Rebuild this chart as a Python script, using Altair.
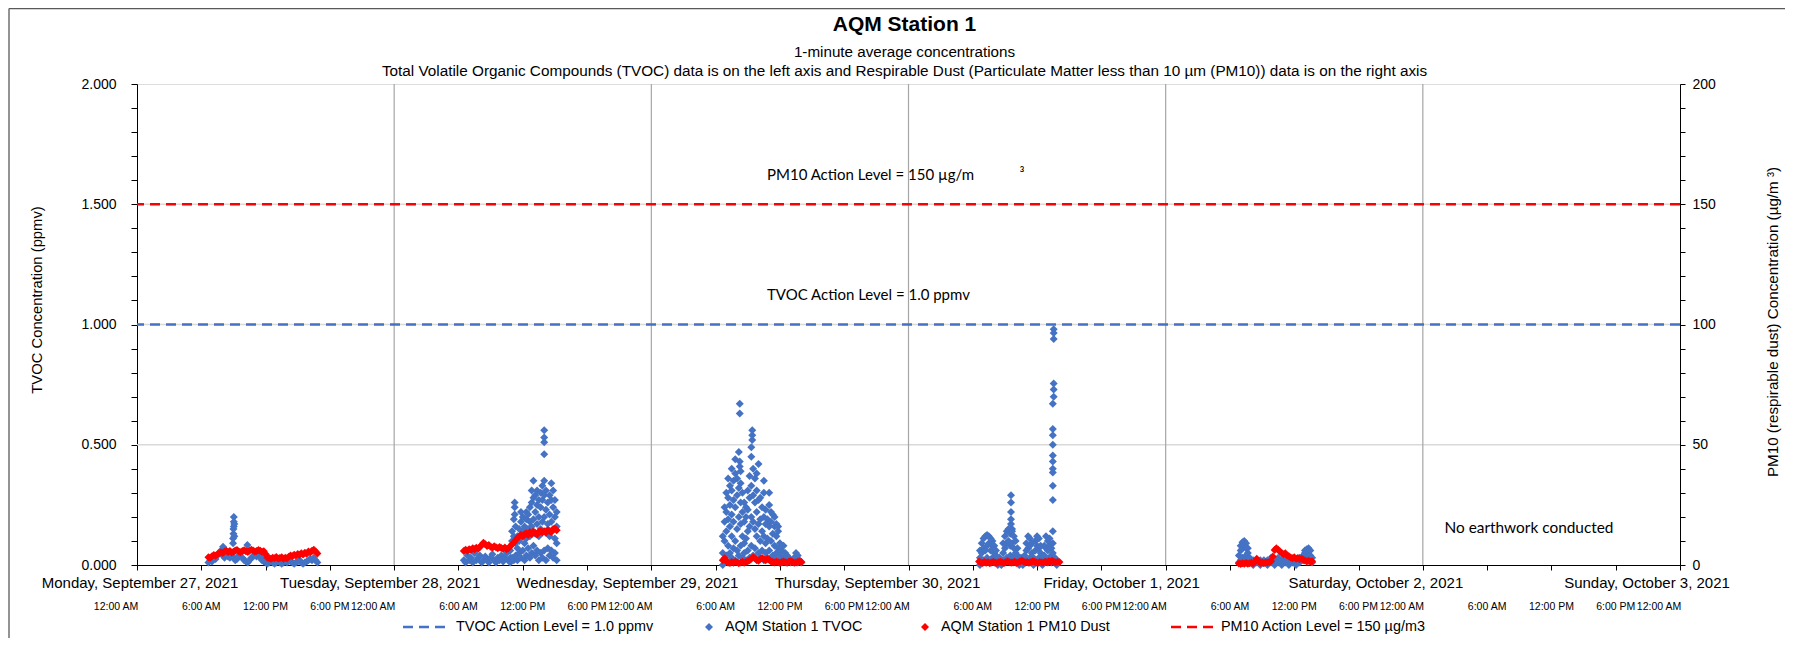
import altair as alt
import pandas as pd

# ------------------------------------------------------------------ DATA
START = pd.Timestamp("2021-09-27 00:00")
STEP_MIN = 10  # spacing of the regular readings listed below

# PM10 respirable dust (ug/m3) - regular readings
pm10_sep27_start = "2021-09-27 06:40"
pm10_sep27 = [3.2, 3.0, 3.6, 4.2, 3.8, 4.5, 4.9, 5.3, 5.0, 5.6, 5.9, 5.4, 5.8, 5.2, 5.5, 6.0,
              6.2, 5.6, 5.3, 5.8, 6.1, 5.7, 5.4, 5.9, 6.3, 6.0, 5.6, 5.8, 6.2, 5.9, 5.5, 5.7,
              4.6, 3.1, 2.9, 2.6, 3.0, 2.8, 3.3, 2.7, 2.9, 3.2, 2.6, 3.0, 2.8, 3.4, 3.9, 3.6,
              4.3, 4.0, 4.6, 4.2, 4.9, 4.4, 5.1, 4.7, 5.6, 5.2, 5.9, 6.3, 5.6, 4.8]
pm10_sep28_start = "2021-09-28 06:30"
pm10_sep28 = [5.8, 6.3, 5.9, 6.6, 6.2, 7.0, 6.5, 7.2, 6.8, 7.5, 8.3, 9.2, 8.6, 7.9, 8.3, 7.6,
              7.2, 7.8, 7.4, 7.0, 7.5, 7.1, 6.8, 7.3, 6.6, 7.0, 7.8, 8.6, 9.4, 10.3, 11.2, 11.8,
              12.6, 11.9, 12.8, 13.2, 12.5, 13.6, 12.9, 13.9, 13.3, 12.7, 13.8, 14.2, 13.5, 14.0,
              13.4, 14.6, 14.1, 13.7, 14.8, 15.2, 14.4]
pm10_sep29_start = "2021-09-29 06:40"
pm10_sep29 = [2.0, 2.8, 1.6, 1.0, 0.8, 1.2, 0.9, 1.4, 1.1, 0.7, 1.0, 1.3, 0.9, 1.2, 1.6, 2.0,
              2.6, 3.2, 2.8, 2.2, 1.8, 2.5, 2.9, 2.4, 2.0, 2.6, 2.2, 1.5, 1.2, 1.0, 1.4, 1.1,
              0.8, 1.2, 1.5, 1.1, 0.9, 1.3, 1.7, 1.2, 0.9, 1.0, 1.3, 1.6, 1.2]
pm10_sep30_start = "2021-09-30 06:35"
pm10_sep30 = [1.5, 1.0, 0.8, 1.2, 0.9, 1.1, 0.7, 1.0, 1.3, 0.9, 0.8, 1.1, 1.4, 1.0, 0.8, 1.2,
              1.6, 1.1, 0.9, 1.0, 1.3, 0.8, 1.1, 1.5, 1.9, 1.4, 1.0, 1.2, 0.9, 1.1, 1.6, 1.3,
              1.0, 0.8, 1.2, 1.0, 0.9, 1.4, 1.1, 1.6, 1.3, 1.8, 1.2, 1.0, 1.4, 1.2]
pm10_oct01_start = "2021-10-01 06:50"
pm10_oct01 = [0.6, 0.4, 0.7, 0.5, 0.8, 0.5, 0.7, 0.9, 0.6, 1.4, 2.6, 1.5, 0.8, 1.0, 0.7, 1.1,
              0.9, 1.2, 1.6, 3.5, 6.2, 7.0, 6.3, 5.6, 5.0, 4.4, 4.9, 4.0, 3.6, 3.1, 2.8, 3.2,
              2.6, 2.9, 2.4, 2.7, 2.2, 1.9, 1.5, 1.8, 1.3, 1.6]

# TVOC (ppmv) - regular readings
tvoc_sep27_start = "2021-09-27 06:40"
tvoc_sep27 = [0.01, 0.02, 0.015, 0.03, 0.025, 0.04, 0.05, 0.06, 0.04, 0.03, 0.05, 0.035, 0.03,
              0.045, 0.03, 0.02, 0.025, 0.04, 0.05, 0.03, 0.02, 0.015, 0.01, 0.02, 0.03, 0.035,
              0.04, 0.035, 0.04, 0.03, 0.02, 0.015, 0.01, 0.005, 0.01, 0.015, 0.01, 0.005, 0.01,
              0.02, 0.01, 0.005, 0.01, 0.015, 0.01, 0.02, 0.015, 0.01, 0.005, 0.01, 0.015, 0.02,
              0.01, 0.005, 0.01, 0.015, 0.02, 0.025, 0.02, 0.03, 0.02, 0.01]
tvoc_sep28_start = "2021-09-28 06:30"
tvoc_sep28 = [0.02, 0.01, 0.04, 0.02, 0.03, 0.01, 0.05, 0.02, 0.03, 0.04, 0.01, 0.02, 0.035,
              0.02, 0.01, 0.03, 0.045, 0.02, 0.01, 0.03, 0.02, 0.04, 0.015, 0.03, 0.05, 0.02, 0.03]

# TVOC (ppmv) - bursts: several readings close to each listed time
tvoc_sep27_bursts = {
    "08:02": [0.05, 0.065, 0.076], "08:58": [0.09, 0.11], "09:00": [0.13, 0.15],
    "09:02": [0.16, 0.18, 0.20], "09:05": [0.17, 0.12], "10:18": [0.06, 0.083],
    "11:30": [0.04], "11:40": [0.038], "11:50": [0.04], "12:00": [0.036],
}
tvoc_sep28_bursts = {
    "10:50": [0.01, 0.06], "11:00": [0.03, 0.10, 0.14], "11:10": [0.02, 0.12, 0.19],
    "11:15": [0.21, 0.24, 0.26], "11:20": [0.04, 0.09, 0.16], "11:30": [0.02, 0.07, 0.12],
    "11:40": [0.05, 0.10, 0.15], "11:50": [0.03, 0.12, 0.18, 0.22], "12:00": [0.06, 0.14, 0.20],
    "12:10": [0.02, 0.09, 0.16], "12:20": [0.04, 0.11, 0.19, 0.22], "12:30": [0.07, 0.15, 0.21],
    "12:40": [0.03, 0.12, 0.18, 0.24], "12:50": [0.05, 0.16, 0.26, 0.31],
    "13:00": [0.08, 0.19, 0.28, 0.35], "13:10": [0.04, 0.13, 0.22, 0.29],
    "13:20": [0.06, 0.17, 0.25, 0.31], "13:30": [0.02, 0.12, 0.20, 0.27],
    "13:40": [0.05, 0.15, 0.24, 0.30], "13:50": [0.03, 0.18, 0.27, 0.33],
    "14:00": [0.06, 0.20, 0.29, 0.35, 0.46, 0.51, 0.53, 0.56], "14:10": [0.02, 0.14, 0.23, 0.31],
    "14:20": [0.07, 0.17, 0.26], "14:30": [0.04, 0.12, 0.21, 0.29],
    "14:40": [0.06, 0.18, 0.27, 0.34], "14:50": [0.03, 0.15, 0.24, 0.31],
    "15:00": [0.05, 0.11, 0.20, 0.27], "15:10": [0.02, 0.09, 0.16, 0.22],
}
tvoc_sep29_bursts = {
    "06:40": [0.0, 0.05, 0.12], "06:50": [0.02, 0.10, 0.18, 0.24], "07:00": [0.04, 0.14, 0.22, 0.30],
    "07:10": [0.01, 0.08, 0.19, 0.28, 0.36], "07:20": [0.05, 0.16, 0.25, 0.33],
    "07:30": [0.03, 0.12, 0.21, 0.31, 0.40], "07:40": [0.07, 0.18, 0.27, 0.35],
    "07:50": [0.02, 0.10, 0.24, 0.38, 0.44], "08:00": [0.06, 0.15, 0.29, 0.36],
    "08:10": [0.04, 0.20, 0.32, 0.47], "08:15": [0.41, 0.43, 0.63, 0.67],
    "08:20": [0.08, 0.17, 0.26, 0.34, 0.39], "08:30": [0.03, 0.12, 0.22, 0.30],
    "08:40": [0.05, 0.09, 0.18, 0.26], "08:50": [0.02, 0.11, 0.20, 0.24],
    "09:00": [0.06, 0.14, 0.23, 0.31], "09:10": [0.03, 0.16, 0.28, 0.37],
    "09:20": [0.08, 0.20, 0.33, 0.45, 0.49], "09:25": [0.52, 0.54, 0.56],
    "09:30": [0.04, 0.18, 0.29, 0.40], "09:40": [0.07, 0.15, 0.26, 0.36],
    "09:50": [0.02, 0.12, 0.22, 0.31, 0.38], "10:00": [0.05, 0.17, 0.27, 0.42],
    "10:10": [0.03, 0.10, 0.19, 0.28], "10:20": [0.06, 0.14, 0.24],
    "10:30": [0.02, 0.12, 0.20, 0.30, 0.35], "10:40": [0.05, 0.09, 0.17, 0.23],
    "10:50": [0.03, 0.11, 0.19], "11:00": [0.06, 0.16, 0.25, 0.30], "11:10": [0.02, 0.10, 0.18, 0.22],
    "11:20": [0.04, 0.13, 0.21], "11:30": [0.03, 0.08, 0.16, 0.20], "11:40": [0.05, 0.12, 0.17],
    "11:50": [0.02, 0.07, 0.14, 0.16], "12:00": [0.04, 0.09], "12:10": [0.01, 0.06],
    "12:20": [0.03, 0.08], "12:30": [0.02, 0.05], "12:40": [0.01, 0.04], "12:50": [0.02, 0.03],
    "13:00": [0.01], "13:10": [0.02], "13:20": [0.01, 0.03], "13:30": [0.02, 0.05],
    "13:40": [0.01, 0.04], "13:50": [0.02], "14:00": [0.01],
}
tvoc_sep30_bursts = {
    "06:40": [0.0, 0.03, 0.06], "06:50": [0.01, 0.05, 0.09], "07:00": [0.02, 0.07, 0.11],
    "07:10": [0.01, 0.06, 0.12], "07:20": [0.03, 0.08, 0.125], "07:30": [0.02, 0.09, 0.12],
    "07:40": [0.01, 0.06, 0.11], "07:50": [0.03, 0.08, 0.10], "08:00": [0.01, 0.05, 0.08],
    "08:10": [0.02, 0.04, 0.06], "08:20": [0.0, 0.02], "08:30": [0.01, 0.03], "08:40": [0.0, 0.02],
    "08:50": [0.02, 0.05, 0.09], "09:00": [0.01, 0.07, 0.12], "09:10": [0.03, 0.09, 0.14],
    "09:20": [0.02, 0.10, 0.15], "09:30": [0.04, 0.08, 0.13], "09:34": [0.17, 0.19, 0.22, 0.26, 0.29],
    "09:40": [0.02, 0.09, 0.14, 0.15], "09:50": [0.03, 0.07, 0.12], "10:00": [0.01, 0.05, 0.10],
    "10:10": [0.02, 0.04, 0.07], "10:20": [0.0, 0.02], "10:30": [0.01, 0.03], "10:40": [0.0, 0.02],
    "10:50": [0.01, 0.04], "11:00": [0.02, 0.06, 0.09], "11:10": [0.01, 0.07, 0.12],
    "11:20": [0.03, 0.08, 0.11], "11:30": [0.02, 0.05, 0.09], "11:40": [0.0, 0.03],
    "11:50": [0.02, 0.06, 0.10], "12:00": [0.01, 0.08, 0.12], "12:10": [0.03, 0.07, 0.11],
    "12:20": [0.02, 0.05, 0.08], "12:30": [0.0, 0.03], "12:40": [0.01, 0.04, 0.08],
    "12:50": [0.02, 0.07, 0.12], "13:00": [0.01, 0.06, 0.10], "13:10": [0.03, 0.08, 0.11],
    "13:20": [0.01, 0.04, 0.07], "13:28": [0.02, 0.05, 0.09, 0.14, 0.27, 0.33, 0.385, 0.40, 0.43,
                                           0.455, 0.50, 0.54, 0.565, 0.67],
    "13:33": [0.70, 0.73, 0.755, 0.94, 0.965, 0.98],
    "13:40": [0.01, 0.03], "13:50": [0.0, 0.02], "14:00": [0.01],
}
tvoc_oct01_bursts = {
    "06:50": [0.01, 0.04], "07:00": [0.02, 0.06, 0.08], "07:10": [0.03, 0.07, 0.095],
    "07:20": [0.02, 0.08, 0.10], "07:30": [0.04, 0.07, 0.09], "07:40": [0.02, 0.05, 0.07],
    "07:50": [0.01, 0.03], "08:10": [0.0, 0.02], "08:30": [0.01, 0.02], "08:50": [0.0, 0.02],
    "09:10": [0.01, 0.02], "09:30": [0.0, 0.02], "09:50": [0.01, 0.03], "10:10": [0.0, 0.02],
    "10:30": [0.01, 0.03], "10:50": [0.0, 0.02], "11:10": [0.01, 0.02], "11:30": [0.0, 0.02],
    "11:50": [0.01, 0.02], "12:10": [0.0, 0.02], "12:30": [0.01, 0.03], "12:50": [0.02, 0.04],
    "13:00": [0.03, 0.05, 0.06], "13:10": [0.02, 0.05, 0.065], "13:20": [0.03, 0.06, 0.07],
    "13:30": [0.02, 0.04, 0.06], "13:40": [0.01, 0.03],
}

# Reference lines, grid, tick labels
tvoc_action_level = [1.0]
pm10_action_level = [150]
h_grid_values = [0.5, 1.0, 1.5]
day_boundaries_h = [24, 48, 72, 96, 120]
day_labels = ["Monday, September 27, 2021", "Tuesday, September 28, 2021",
              "Wednesday, September 29, 2021", "Thursday, September 30, 2021",
              "Friday, October 1, 2021", "Saturday, October 2, 2021", "Sunday, October 3, 2021"]
time_label_cycle = ["12:00 AM", "6:00 AM", "12:00 PM", "6:00 PM"]

# ------------------------------------------------------------------ BUILD TABLES
def hrs(ts):
    return (pd.Timestamp(ts) - START).total_seconds() / 3600.0

def regular(start, values):
    h0 = hrs(start)
    return [(h0 + i * STEP_MIN / 60.0, v) for i, v in enumerate(values)]

def bursts(date, d):
    return [(hrs(f"{date} {t}"), v) for t, vs in d.items() for v in vs]

tvoc_rows = (regular(tvoc_sep27_start, tvoc_sep27) + regular(tvoc_sep28_start, tvoc_sep28)
             + bursts("2021-09-27", tvoc_sep27_bursts) + bursts("2021-09-28", tvoc_sep28_bursts)
             + bursts("2021-09-29", tvoc_sep29_bursts) + bursts("2021-09-30", tvoc_sep30_bursts)
             + bursts("2021-10-01", tvoc_oct01_bursts))
pm_rows = (regular(pm10_sep27_start, pm10_sep27) + regular(pm10_sep28_start, pm10_sep28)
           + regular(pm10_sep29_start, pm10_sep29) + regular(pm10_sep30_start, pm10_sep30)
           + regular(pm10_oct01_start, pm10_oct01))
tvoc_df = pd.DataFrame(tvoc_rows, columns=["h", "v"])
pm_df = pd.DataFrame(pm_rows, columns=["h", "v"])

tick_hours = list(range(0, 145, 6))
time_df = pd.DataFrame({"h": tick_hours,
                        "lab": [time_label_cycle[(h % 24) // 6] for h in tick_hours]})

# ------------------------------------------------------------------ STYLE
W, H = 1543, 481
BLUE, RED = "#4472C4", "#FF0000"
FONT = "Liberation Sans"
NOTE_FONT = "Lato"
MS = 64
day_label_dx = [3, -14, -24, -31, -44, -47, -33]

x_scale = alt.Scale(domain=[0, 144], nice=False, zero=False)
x_axis = alt.Axis(values=tick_hours, labels=False, tickSize=5, tickColor="black",
                  domainColor="black", grid=False, title="")
x_enc = alt.X("h:Q", scale=x_scale, axis=x_axis)

left_scale = alt.Scale(domain=[0, 2], nice=False)
left_axis = alt.Axis(orient="left", values=[round(i * 0.1, 1) for i in range(21)],
                     labelExpr="(round(datum.value*10) % 5 == 0) ? format(datum.value, '.3f') : ''",
                     tickSize=6, tickColor="black", domainColor="black", labelColor="black",
                     labelFont=FONT, labelFontSize=14, labelPadding=15, grid=False, title="")
right_scale = alt.Scale(domain=[0, 200], nice=False)
right_axis = alt.Axis(orient="right", values=list(range(0, 201, 10)),
                      labelExpr="(datum.value % 50 == 0) ? format(datum.value, 'd') : ''",
                      tickSize=5, tickColor="black", domainColor="black", labelColor="black",
                      labelFont=FONT, labelFontSize=14, labelPadding=7, grid=False, title="")

yl = lambda: alt.Y("v:Q", scale=left_scale, axis=left_axis)
yr = lambda: alt.Y("v:Q", scale=right_scale, axis=right_axis)

hgrid = alt.Chart(pd.DataFrame({"v": h_grid_values})).mark_rule(
    color="#d9d9d9", strokeWidth=1.3).encode(y=yl())
vgrid = alt.Chart(pd.DataFrame({"h": day_boundaries_h})).mark_rule(
    color="#a6a6a6", strokeWidth=1.2).encode(x=x_enc)
tvoc_rule = alt.Chart(pd.DataFrame({"v": tvoc_action_level})).mark_rule(
    color=BLUE, strokeWidth=2.3, strokeDash=[10, 6]).encode(y=yl())
tvoc_pts = alt.Chart(tvoc_df).mark_point(
    shape="diamond", filled=True, size=MS, color=BLUE, opacity=1).encode(x=x_enc, y=yl())

pm_pts = alt.Chart(pm_df).mark_point(
    shape="diamond", filled=True, size=MS, color=RED, opacity=1).encode(x=x_enc, y=yr())
pm_rule = alt.Chart(pd.DataFrame({"v": pm10_action_level})).mark_rule(
    color=RED, strokeWidth=2.3, strokeDash=[10, 6]).encode(y=yr())


def txt(s, x, y, size=14, font=FONT, align="left", weight="normal", angle=0):
    return alt.Chart(pd.DataFrame({"t": [s]})).mark_text(
        font=font, fontSize=size, align=align, baseline="middle", color="black",
        fontWeight=weight, angle=angle).encode(text="t:N", x=alt.value(x), y=alt.value(y))


deco = []
# titles
deco.append(txt("AQM Station 1", W / 2 - 4, -59, size=21, align="center", weight="bold"))
deco.append(txt("1-minute average concentrations", W / 2 - 4, -32, size=15.2, align="center"))
deco.append(txt("Total Volatile Organic Compounds (TVOC) data is on the left axis and Respirable Dust "
                "(Particulate Matter less than 10 \u00b5m (PM10)) data is on the right axis",
                W / 2 - 4, -13, size=15.3, align="center"))
# axis titles
deco.append(txt("TVOC Concentration (ppmv)", -99, 216, size=14.8, align="center", angle=270))
deco.append(txt("PM10 (respirable dust) Concentration (\u00b5g/m  \u00b3)", W + 93, 238,
                size=15.2, align="center", angle=270))
# annotations
deco.append(txt("PM10 Action Level = 150 \u00b5g/m", 630, 91, size=15, font=NOTE_FONT))
deco.append(txt("\u00b3", 885, 90, size=15, font=NOTE_FONT, align="center"))
deco.append(txt("TVOC Action Level = 1.0 ppmv", 630, 211, size=15, font=NOTE_FONT))
deco.append(txt("No earthwork conducted", 1392, 444, size=15.4, font=NOTE_FONT, align="center"))

# x tick labels (two rows)
time_mid = alt.Chart(time_df[time_df["h"] % 24 == 0]).mark_text(
    font=FONT, fontSize=10.5, align="center", baseline="middle", color="black", dx=-21
).encode(x=x_enc, y=alt.value(523), text="lab:N")
time_oth = alt.Chart(time_df[time_df["h"] % 24 != 0]).mark_text(
    font=FONT, fontSize=10.5, align="center", baseline="middle", color="black"
).encode(x=x_enc, y=alt.value(523), text="lab:N")
day_layers = []
for i, lab in enumerate(day_labels):
    day_layers.append(alt.Chart(pd.DataFrame({"h": [24 * i], "lab": [lab]})).mark_text(
        font=FONT, fontSize=15, align="center", baseline="middle", color="black",
        dx=day_label_dx[i]).encode(x=x_enc, y=alt.value(499), text="lab:N"))

# legend
LY = 543
leg = [
    alt.Chart(pd.DataFrame({"a": [0]})).mark_rule(color=BLUE, strokeWidth=2.3, strokeDash=[10, 6])
    .encode(x=alt.value(266), x2=alt.value(309), y=alt.value(LY)),
    txt("TVOC Action Level = 1.0 ppmv", 319, LY, size=14.4),
    alt.Chart(pd.DataFrame({"a": [0]})).mark_point(shape="diamond", filled=True, size=MS,
                                                   color=BLUE, opacity=1)
    .encode(x=alt.value(572), y=alt.value(LY)),
    txt("AQM Station 1 TVOC", 588, LY, size=14.4),
    alt.Chart(pd.DataFrame({"a": [0]})).mark_point(shape="diamond", filled=True, size=MS,
                                                   color=RED, opacity=1)
    .encode(x=alt.value(788), y=alt.value(LY)),
    txt("AQM Station 1 PM10 Dust", 804, LY, size=14.4),
    alt.Chart(pd.DataFrame({"a": [0]})).mark_rule(color=RED, strokeWidth=2.3, strokeDash=[10, 6])
    .encode(x=alt.value(1034), x2=alt.value(1076), y=alt.value(LY)),
    txt("PM10 Action Level = 150 \u00b5g/m3", 1084, LY, size=14.4),
]

# outer frame (left and top edges)
frame = [
    alt.Chart(pd.DataFrame({"a": [0]})).mark_rule(color="#595959", strokeWidth=1.3)
    .encode(x=alt.value(-128), y=alt.value(-75.5), y2=alt.value(H + 73)),
    alt.Chart(pd.DataFrame({"a": [0]})).mark_rule(color="#595959", strokeWidth=1.3)
    .encode(x=alt.value(-128), x2=alt.value(W + 105), y=alt.value(-75.5)),
]

left = alt.layer(hgrid, vgrid, tvoc_rule, tvoc_pts)
right = alt.layer(pm_pts, pm_rule, *deco, time_mid, time_oth, *day_layers, *leg, *frame)

chart = alt.layer(left, right).resolve_scale(y="independent").properties(
    width=W, height=H,
    padding={"left": 129, "top": 76, "right": 105, "bottom": 73},
    autosize=alt.AutoSizeParams(type="none"),
).configure_view(stroke="#595959", strokeWidth=1.2).configure(background="white")

chart.save("out.html", embed_options={"renderer": "svg", "actions": False})
